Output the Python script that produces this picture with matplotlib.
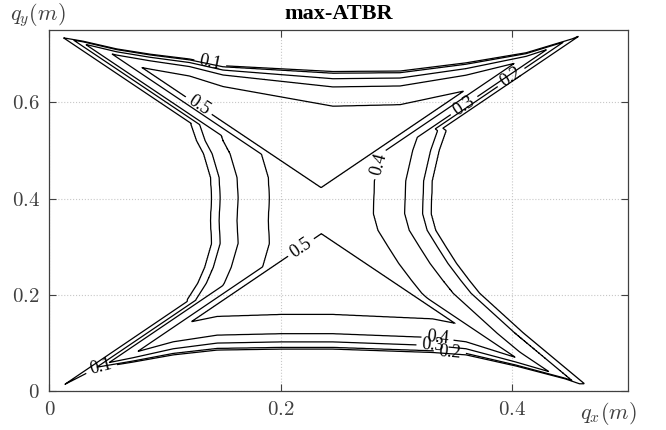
import numpy as np
import matplotlib
matplotlib.use("Agg")
import matplotlib.pyplot as plt

plt.rcParams["font.family"] = ["Liberation Serif", "DejaVu Serif"]
plt.rcParams["mathtext.fontset"] = "cm"

# contour levels and where they sit
levels = [0.1, 0.2, 0.3, 0.4, 0.5]

# workspace tips (corners) -> the two diagonals
diag1 = [(0.012, 0.734), (0.458, 0.015)]   # top-left to bottom-right
diag2 = [(0.012, 0.012), (0.458, 0.738)]   # bottom-left to top-right

# outer (0.1) contour along the top and bottom edges
top_x = [0.012, 0.029, 0.058, 0.087, 0.121, 0.150, 0.245, 0.303, 0.360, 0.412, 0.452, 0.458]
top_y = [0.734, 0.727, 0.711, 0.700, 0.690, 0.676, 0.664, 0.665, 0.682, 0.703, 0.732, 0.738]
top_s = [0.30, 0.36, 0.40, 0.43, 0.49, 0.60, 1.00, 0.97, 0.80, 0.50, 0.32, 0.30]
bot_x = [0.012, 0.041, 0.072, 0.107, 0.145, 0.200, 0.245, 0.331, 0.360, 0.403, 0.446, 0.458]
bot_y = [0.012, 0.048, 0.060, 0.075, 0.085, 0.087, 0.087, 0.080, 0.075, 0.052, 0.025, 0.015]
bot_s = [0.30, 0.40, 0.60, 0.85, 0.97, 1.00, 1.00, 0.97, 0.85, 0.55, 0.35, 0.30]

# outer (0.1) contour of the left / right lobes
left_y = [0.0, 0.10, 0.165, 0.190, 0.224, 0.257, 0.307, 0.354, 0.402, 0.444, 0.493, 0.520, 0.555, 0.62, 0.75]
left_x = [0.30, 0.17, 0.118, 0.119, 0.128, 0.134, 0.140, 0.139, 0.140, 0.139, 0.133, 0.127, 0.122, 0.17, 0.30]
right_y = [0.0, 0.05, 0.12, 0.203, 0.230, 0.265, 0.299, 0.334, 0.369, 0.437, 0.500, 0.541, 0.62, 0.75]
right_x = [0.47, 0.445, 0.41, 0.372, 0.363, 0.352, 0.343, 0.334, 0.330, 0.331, 0.337, 0.343, 0.30, 0.20]

# distance from the 0.1 line to each level
edge_dist = [-0.002, 0.0, 0.0035, 0.015, 0.032, 0.072, 0.16]
edge_val = [0.0, 0.1, 0.2, 0.3, 0.4, 0.5, 0.56]
lr_dist = [-0.002, 0.0, 0.0075, 0.023, 0.050, 0.096]
lr_val = [0.0, 0.1, 0.2, 0.3, 0.4, 0.46]
diag_dist = [-0.002, 0.0, 0.005, 0.009, 0.018, 0.025, 0.08]
diag_val = [0.0, 0.1, 0.2, 0.3, 0.4, 0.5, 0.58]

# label positions per level
label_pos = {
    0.1: [(0.139, 0.682), (0.046, 0.033)],
    0.2: [(0.398, 0.655), (0.346, 0.079)],
    0.3: [(0.357, 0.597), (0.331, 0.091)],
    0.4: [(0.291, 0.468), (0.335, 0.100)],
    0.5: [(0.131, 0.600), (0.221, 0.286)],
}

x = np.linspace(0, 0.5, 801)
y = np.linspace(0, 0.75, 1201)
X, Y = np.meshgrid(x, y)


def above(line):
    (px, py), (qx, qy) = line
    dx, dy = qx - px, qy - py
    return ((X - px) * (-dy) + (Y - py) * dx) / np.hypot(dx, dy)


s1 = above(diag1)
s2 = above(diag2)
dd = np.maximum(np.minimum(s1, s2), np.minimum(-s1, -s2))

w_top = (np.interp(X, top_x, top_y) - Y) / np.interp(X, top_x, top_s)
w_bot = (Y - np.interp(X, bot_x, bot_y)) / np.interp(X, bot_x, bot_s)
t_tb = np.interp(np.minimum(w_top, w_bot), edge_dist, edge_val)
hx = np.minimum(X - np.interp(Y, left_y, left_x), np.interp(Y, right_y, right_x) - X)
b = np.interp(hx, lr_dist, lr_val)
g = np.interp(dd, diag_dist, diag_val)
soft = (b + g + np.sqrt((b - g) ** 2 + 0.035 ** 2)) / 2 - 0.0175
F = np.minimum(t_tb, np.maximum(soft, np.maximum(b, g)))

fig = plt.figure(figsize=(6.66, 4.3), dpi=100, facecolor="white")
ax = fig.add_axes([0.0743, 0.0907, 0.8686, 0.8393])

for lev in levels:
    cs = ax.contour(X, Y, F, levels=[lev], colors="k", linewidths=0.9)
    ax.clabel(cs, fmt="%.1f", fontsize=13, inline=True, manual=label_pos[lev])

ax.set_xlim(0, 0.5)
ax.set_ylim(0, 0.75)
ax.set_xticks([0, 0.2, 0.4])
ax.set_xticklabels(["$0$", "$0.2$", "$0.4$"])
ax.set_yticks([0, 0.2, 0.4, 0.6])
ax.set_yticklabels(["$0$", "$0.2$", "$0.4$", "$0.6$"])
ax.tick_params(direction="in", top=True, right=True, length=5, width=0.8,
               colors="#404040", labelsize=15, pad=7)
ax.grid(True, ls=":", color="#c8c8c8", lw=0.8)
for sp in ax.spines.values():
    sp.set_color("#404040")
    sp.set_linewidth(0.9)

ax.set_title("max-ATBR", fontweight="bold", fontsize=16, pad=8)
ax.text(-0.068, 1.081, "$q_y(m)$", transform=ax.transAxes, ha="left", va="top",
        fontsize=16, color="#404040")
ax.text(0.967, -0.061, "$q_x(m)$", transform=ax.transAxes, ha="center", va="center",
        fontsize=16, color="#404040")

fig.savefig("out.png", dpi=100)
